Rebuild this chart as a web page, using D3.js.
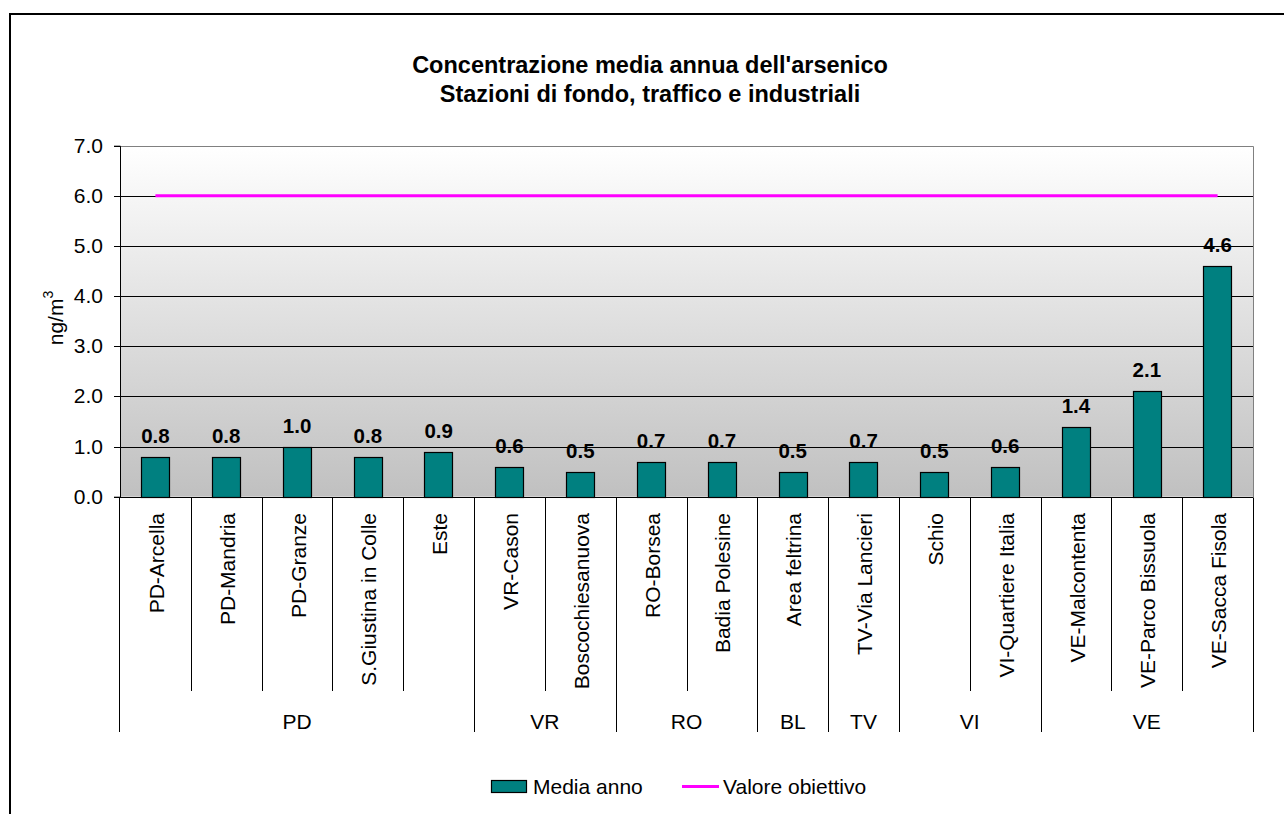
<!DOCTYPE html>
<html>
<head>
<meta charset="utf-8">
<script src="https://cdn.jsdelivr.net/npm/d3@7"></script>
<style>
  body { margin: 0; background: #fff; }
  svg { display: block; font-family: Arial, "Liberation Sans", sans-serif; }
</style>
</head>
<body>
<div id="chart"></div>
<script>
// stazioni (categorie) e provincia di appartenenza
const stations = ["PD-Arcella", "PD-Mandria", "PD-Granze", "S.Giustina in Colle", "Este",
  "VR-Cason", "Boscochiesanuova", "RO-Borsea", "Badia Polesine", "Area feltrina",
  "TV-Via Lancieri", "Schio", "VI-Quartiere Italia", "VE-Malcontenta", "VE-Parco Bissuola", "VE-Sacca Fisola"]
const provinces = ["PD", "PD", "PD", "PD", "PD", "VR", "VR", "RO", "RO", "BL", "TV", "VI", "VI", "VE", "VE", "VE"]

// serie
const mediaAnno = [0.8, 0.8, 1.0, 0.8, 0.9, 0.6, 0.5, 0.7, 0.7, 0.5, 0.7, 0.5, 0.6, 1.4, 2.1, 4.6]
const valoreObiettivo = [6, 6, 6, 6, 6, 6, 6, 6, 6, 6, 6, 6, 6, 6, 6, 6]

const yTickValues = [0, 1, 2, 3, 4, 5, 6, 7]
const titleLines = ["Concentrazione media annua dell'arsenico", "Stazioni di fondo, traffico e industriali"]

const W = 1284, H = 814
const plot = { left: 120, right: 1253, top: 145.7, bottom: 496.7 }
const TEAL = "#008080", MAGENTA = "#ff00ff"

const svg = d3.select("#chart").append("svg")
  .attr("width", W).attr("height", H)

// gradient for the plot area (white -> silver)
const grad = svg.append("defs").append("linearGradient")
  .attr("id", "bg").attr("x1", 0).attr("y1", 0).attr("x2", 0).attr("y2", 1)
grad.append("stop").attr("offset", "0%").attr("stop-color", "#ffffff")
grad.append("stop").attr("offset", "100%").attr("stop-color", "#c0c0c0")

const x = d3.scaleBand().domain(stations).range([plot.left, plot.right]).paddingInner(0).paddingOuter(0)
const y = d3.scaleLinear().domain([0, 7]).range([plot.bottom, plot.top])
const crisp = v => Math.round(v) + 0.5

// outer chart frame
svg.append("rect")
  .attr("x", 10).attr("y", 14).attr("width", 1300).attr("height", 900)
  .attr("fill", "none").attr("stroke", "#000").attr("stroke-width", 2)

// title
svg.append("g").selectAll("text").data(titleLines).join("text")
  .attr("x", 650).attr("y", (d, i) => 73 + i * 29)
  .attr("text-anchor", "middle")
  .attr("font-size", 23.5).attr("font-weight", "bold")
  .text(d => d)

// plot background
svg.append("rect")
  .attr("x", plot.left).attr("y", plot.top)
  .attr("width", plot.right - plot.left).attr("height", plot.bottom - plot.top)
  .attr("fill", "url(#bg)")

// gridlines
svg.append("g").selectAll("line").data(yTickValues.filter(d => d > 0 && d < 7)).join("line")
  .attr("x1", plot.left).attr("x2", plot.right)
  .attr("y1", d => crisp(y(d))).attr("y2", d => crisp(y(d)))
  .attr("stroke", "#000").attr("stroke-width", 1)

// plot border top / right
svg.append("path")
  .attr("d", `M${plot.left},${crisp(plot.top)}H${crisp(plot.right)}V${crisp(plot.bottom)}`)
  .attr("fill", "none").attr("stroke", "#808080").attr("stroke-width", 1)

// y axis
const yAxis = svg.append("g")
  .attr("transform", `translate(${crisp(plot.left) - 0.5},0)`)
  .call(d3.axisLeft(y).tickValues(yTickValues).tickFormat(d3.format(".1f")).tickSize(6).tickPadding(11))
yAxis.select(".domain").attr("stroke", "#000")
yAxis.selectAll(".tick line").attr("stroke", "#000")
yAxis.selectAll(".tick text").attr("font-size", 21).attr("fill", "#000")
  .attr("font-family", "Arial, 'Liberation Sans', sans-serif")
yAxis.selectAll(".tick").attr("transform", d => `translate(0,${crisp(y(d))})`)

// y axis title
const yTitle = svg.append("text")
  .attr("transform", "translate(63,318) rotate(-90)")
  .attr("text-anchor", "middle")
  .attr("font-size", 21)
yTitle.append("tspan").text("ng/m")
yTitle.append("tspan").attr("font-size", 14).attr("dy", -10).text("3")

// bars
const barW = x.bandwidth() / 2.5
svg.append("g").selectAll("rect").data(mediaAnno).join("rect")
  .attr("x", (d, i) => Math.round(x(stations[i]) + (x.bandwidth() - barW) / 2) + 0.5)
  .attr("y", d => crisp(y(d)))
  .attr("width", Math.round(barW))
  .attr("height", d => crisp(y(0)) - crisp(y(d)))
  .attr("fill", TEAL).attr("stroke", "#000").attr("stroke-width", 1.2)

// value labels
svg.append("g").selectAll("text").data(mediaAnno).join("text")
  .attr("x", (d, i) => x(stations[i]) + x.bandwidth() / 2)
  .attr("y", d => y(d) - 14)
  .attr("text-anchor", "middle")
  .attr("font-size", 20.5).attr("font-weight", "bold")
  .text(d => d3.format(".1f")(d))

// valore obiettivo line
const line = d3.line()
  .x((d, i) => x(stations[i]) + x.bandwidth() / 2)
  .y(d => y(d))
svg.append("path")
  .datum(valoreObiettivo)
  .attr("d", line)
  .attr("fill", "none").attr("stroke", MAGENTA).attr("stroke-width", 3)

// x axis line
svg.append("line")
  .attr("x1", plot.left - 6).attr("x2", plot.right)
  .attr("y1", crisp(plot.bottom)).attr("y2", crisp(plot.bottom))
  .attr("stroke", "#000")

// category separators: short between stations, long between provinces
const bounds = d3.range(stations.length + 1)
svg.append("g").selectAll("line").data(bounds).join("line")
  .attr("x1", i => crisp(plot.left + i * x.step()) - (i === 0 ? 1 : 0))
  .attr("x2", i => crisp(plot.left + i * x.step()) - (i === 0 ? 1 : 0))
  .attr("y1", crisp(plot.bottom))
  .attr("y2", i => (i === 0 || i === stations.length || provinces[i] !== provinces[i - 1]) ? 732 : 691)
  .attr("stroke", "#000")

// station labels
svg.append("g").selectAll("text").data(stations).join("text")
  .attr("transform", d => `translate(${x(d) + x.bandwidth() / 2 + 1},513) rotate(-90)`)
  .attr("dy", "0.36em")
  .attr("text-anchor", "end")
  .attr("font-size", 21)
  .text(d => d)

// province labels
const groups = d3.groups(stations.map((s, i) => ({ s, p: provinces[i] })), d => d.p)
svg.append("g").selectAll("text").data(groups).join("text")
  .attr("x", g => {
    const first = x(g[1][0].s), last = x(g[1][g[1].length - 1].s) + x.bandwidth()
    return (first + last) / 2
  })
  .attr("y", 729)
  .attr("text-anchor", "middle")
  .attr("font-size", 21)
  .text(g => g[0])

// legend
const legend = svg.append("g")
legend.append("rect")
  .attr("x", 491.5).attr("y", 780.5).attr("width", 35).attr("height", 12)
  .attr("fill", TEAL).attr("stroke", "#000").attr("stroke-width", 1.2)
legend.append("text").attr("x", 533).attr("y", 794).attr("font-size", 21).text("Media anno")
legend.append("line")
  .attr("x1", 682).attr("x2", 719).attr("y1", 786.5).attr("y2", 786.5)
  .attr("stroke", MAGENTA).attr("stroke-width", 3)
legend.append("text").attr("x", 723).attr("y", 794).attr("font-size", 21).text("Valore obiettivo")
</script>
</body>
</html>
